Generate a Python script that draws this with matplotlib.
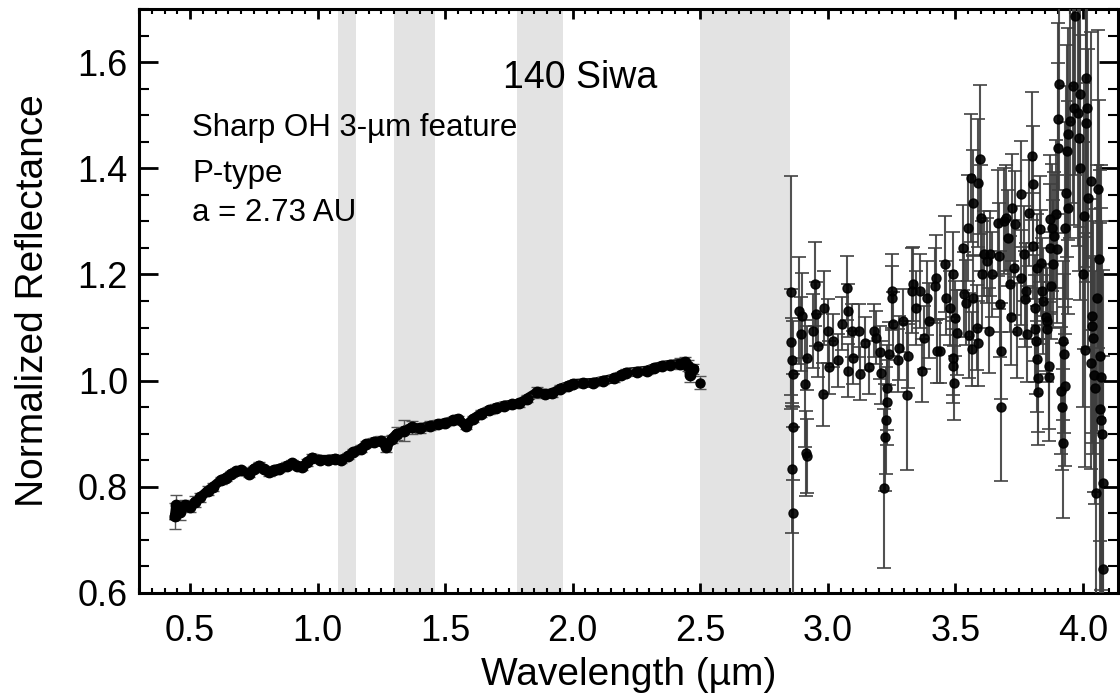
"""Reflectance spectrum of 140 Siwa (0.4-4.1 um) with telluric bands shaded."""

import matplotlib
matplotlib.use("Agg")
import matplotlib.pyplot as plt  # noqa: E402
from matplotlib.ticker import MultipleLocator  # noqa: E402

plt.rcParams["font.family"] = ["Liberation Sans", "DejaVu Sans"]

# telluric bands (um)
band_lo = [1.08, 1.30, 1.78, 2.50]
band_hi = [1.15, 1.46, 1.96, 2.85]

# visible / near-IR part
left_wave = [0.44, 0.445, 0.46, 0.48, 0.50, 0.52, 0.54, 0.57, 0.59, 0.62, 0.64, 0.66,
             0.68, 0.70, 0.73, 0.75, 0.77, 0.79, 0.81, 0.83, 0.85, 0.88, 0.90, 0.92,
             0.94, 0.96, 0.98, 1.01, 1.04, 1.07, 1.09, 1.12, 1.14, 1.17, 1.19, 1.22,
             1.25, 1.27, 1.29, 1.31, 1.34, 1.37, 1.40, 1.44, 1.47, 1.50, 1.53, 1.55,
             1.58, 1.61, 1.64, 1.67, 1.70, 1.73, 1.76, 1.79, 1.82, 1.86, 1.89, 1.92,
             1.95, 1.98, 2.00, 2.04, 2.08, 2.12, 2.16, 2.19, 2.21, 2.25, 2.29, 2.32,
             2.35, 2.38, 2.42, 2.44, 2.45, 2.46, 2.47]
left_refl = [0.745, 0.765, 0.752, 0.765, 0.762, 0.772, 0.780, 0.793, 0.800, 0.812, 0.817, 0.824,
             0.829, 0.831, 0.825, 0.834, 0.840, 0.833, 0.827, 0.832, 0.834, 0.840, 0.844, 0.840,
             0.837, 0.846, 0.855, 0.851, 0.851, 0.853, 0.850, 0.858, 0.865, 0.872, 0.880, 0.885,
             0.887, 0.874, 0.890, 0.900, 0.906, 0.912, 0.910, 0.915, 0.918, 0.920, 0.925, 0.928,
             0.915, 0.928, 0.938, 0.944, 0.949, 0.953, 0.955, 0.957, 0.966, 0.978, 0.975, 0.976,
             0.985, 0.990, 0.994, 0.995, 0.996, 1.000, 1.004, 1.010, 1.015, 1.017, 1.019, 1.024,
             1.028, 1.030, 1.032, 1.035, 1.028, 1.010, 1.022]
left_err = [0.025, 0.02, 0.015, 0.01, 0.01, 0.01, 0.008, 0.008, 0.008, 0.006, 0.006, 0.006,
            0.006, 0.006, 0.006, 0.006, 0.006, 0.006, 0.006, 0.006, 0.006, 0.006, 0.006, 0.006,
            0.006, 0.006, 0.006, 0.006, 0.006, 0.006, 0.006, 0.006, 0.006, 0.006, 0.006, 0.006,
            0.008, 0.008, 0.008, 0.012, 0.02, 0.012, 0.008, 0.008, 0.008, 0.006, 0.006, 0.006,
            0.006, 0.006, 0.006, 0.006, 0.006, 0.006, 0.006, 0.006, 0.006, 0.01, 0.006, 0.006,
            0.006, 0.006, 0.006, 0.006, 0.006, 0.006, 0.006, 0.006, 0.006, 0.006, 0.006, 0.006,
            0.006, 0.006, 0.01, 0.01, 0.01, 0.012, 0.01]

# isolated point at the band edge
edge_wave = [2.50]
edge_refl = [0.996]
edge_err = [0.012]

# 3-um region
right_wave = [2.857, 2.855, 2.860, 2.862, 2.865, 2.860, 2.862, 2.885, 2.900, 2.895, 2.910, 2.915,
              2.918, 2.920, 2.940, 2.950, 2.952, 2.960, 2.980, 2.985, 3.000, 3.005, 3.020, 3.040,
              3.055, 3.075, 3.078, 3.080, 3.095, 3.098, 3.120, 3.125, 3.145, 3.160, 3.180, 3.190,
              3.205, 3.210, 3.220, 3.225, 3.228, 3.230, 3.232, 3.240, 3.250, 3.252, 3.255, 3.275,
              3.280, 3.295, 3.310, 3.315, 3.330, 3.335, 3.345, 3.360, 3.370, 3.375, 3.390, 3.395,
              3.420, 3.425, 3.428, 3.440, 3.460, 3.462, 3.480, 3.490, 3.492, 3.495, 3.490, 3.500,
              3.505, 3.530, 3.535, 3.540, 3.550, 3.555, 3.560, 3.565, 3.568, 3.570, 3.585, 3.588,
              3.590, 3.595, 3.600, 3.605, 3.610, 3.625, 3.630, 3.635, 3.645, 3.665, 3.670, 3.675,
              3.678, 3.680, 3.690, 3.700, 3.705, 3.715, 3.718, 3.720, 3.730, 3.735, 3.740, 3.755,
              3.758, 3.770, 3.772, 3.775, 3.780, 3.790, 3.800, 3.802, 3.805, 3.810, 3.812, 3.815,
              3.818, 3.820, 3.822, 3.825, 3.830, 3.835, 3.840, 3.842, 3.855, 3.858, 3.860, 3.865,
              3.868, 3.870, 3.872, 3.875, 3.880, 3.882, 3.885, 3.895, 3.897, 3.900, 3.903, 3.905,
              3.915, 3.918, 3.920, 3.922, 3.925, 3.928, 3.930, 3.935, 3.938, 3.940, 3.943, 3.950,
              3.960, 3.963, 3.970, 3.980, 3.985, 3.988, 3.990, 4.000, 4.003, 4.007, 4.010, 4.013,
              4.016, 4.020, 4.030, 4.033, 4.035, 4.037, 4.040, 4.042, 4.045, 4.050, 4.055, 4.060,
              4.062, 4.065, 4.067, 4.070, 4.072, 4.075, 4.077, 4.080]
right_refl = [1.166, 1.072, 1.038, 1.013, 0.913, 0.833, 0.750, 1.132, 1.122, 1.088, 0.994, 0.863,
              0.858, 1.043, 1.094, 1.182, 1.126, 1.066, 0.974, 1.137, 1.094, 1.025, 1.075, 1.038,
              1.107, 1.175, 1.132, 1.019, 1.094, 1.043, 1.094, 1.013, 1.070, 1.025, 1.094, 1.081,
              1.053, 1.015, 0.797, 0.893, 0.925, 0.987, 0.959, 1.051, 1.169, 1.156, 1.107, 1.038,
              1.062, 1.113, 0.972, 1.047, 1.169, 1.182, 1.137, 1.169, 1.019, 1.081, 1.156, 1.113,
              1.179, 1.194, 1.056, 1.056, 1.220, 1.156, 1.137, 1.043, 1.028, 0.996, 1.200, 1.117,
              1.090, 1.250, 1.163, 1.147, 1.288, 1.085, 1.382, 1.060, 1.335, 1.156, 1.100, 1.070,
              1.372, 1.417, 1.307, 1.200, 1.239, 1.226, 1.094, 1.239, 1.200, 1.297, 1.235, 1.145,
              1.056, 0.951, 1.301, 1.307, 1.269, 1.182, 1.119, 1.326, 1.213, 1.295, 1.094, 1.351,
              1.194, 1.239, 1.154, 1.169, 1.088, 1.316, 1.423, 1.370, 1.254, 1.137, 1.098, 1.075,
              1.041, 1.213, 1.004, 0.978, 1.286, 1.222, 1.169, 1.150, 1.119, 1.098, 1.113, 1.028,
              1.006, 1.250, 1.305, 1.179, 1.288, 1.220, 1.273, 1.314, 1.248, 1.438, 1.493, 1.559,
              0.981, 0.951, 1.075, 0.882, 1.051, 0.989, 1.288, 1.354, 1.433, 1.465, 1.326, 1.489,
              1.555, 1.514, 1.687, 1.504, 1.457, 1.401, 1.540, 1.200, 1.310, 1.058, 1.486, 1.570,
              1.514, 1.344, 1.376, 1.034, 1.122, 1.103, 1.081, 1.011, 0.987, 0.788, 1.156, 1.361,
              1.229, 1.047, 0.947, 1.006, 0.925, 0.900, 0.808, 0.646]
right_err = [0.22, 0.10, 0.08, 0.10, 0.10, 0.12, 0.20, 0.10, 0.08, 0.07, 0.12, 0.08,
             0.07, 0.06, 0.07, 0.08, 0.06, 0.06, 0.06, 0.07, 0.06, 0.05, 0.05, 0.05,
             0.05, 0.06, 0.05, 0.05, 0.05, 0.05, 0.05, 0.05, 0.05, 0.05, 0.05, 0.05,
             0.05, 0.06, 0.15, 0.10, 0.10, 0.08, 0.08, 0.06, 0.07, 0.06, 0.06, 0.06,
             0.06, 0.06, 0.14, 0.06, 0.08, 0.07, 0.07, 0.07, 0.06, 0.06, 0.07, 0.07,
             0.07, 0.08, 0.06, 0.06, 0.09, 0.07, 0.07, 0.07, 0.07, 0.07, 0.08, 0.07,
             0.08, 0.08, 0.08, 0.08, 0.10, 0.08, 0.12, 0.07, 0.10, 0.08, 0.08, 0.08,
             0.12, 0.14, 0.10, 0.10, 0.08, 0.08, 0.08, 0.08, 0.08, 0.10, 0.10, 0.10,
             0.09, 0.14, 0.10, 0.10, 0.09, 0.09, 0.09, 0.10, 0.09, 0.10, 0.09, 0.10,
             0.09, 0.09, 0.09, 0.09, 0.09, 0.10, 0.12, 0.11, 0.10, 0.10, 0.10, 0.10,
             0.10, 0.10, 0.10, 0.10, 0.10, 0.10, 0.10, 0.10, 0.10, 0.10, 0.10, 0.12,
             0.12, 0.12, 0.12, 0.10, 0.12, 0.12, 0.12, 0.14, 0.14, 0.16, 0.18, 0.20,
             0.12, 0.12, 0.15, 0.14, 0.15, 0.15, 0.20, 0.20, 0.20, 0.20, 0.20, 0.22,
             0.22, 0.22, 0.30, 0.25, 0.25, 0.25, 0.25, 0.25, 0.25, 0.22, 0.30, 0.30,
             0.30, 0.28, 0.28, 0.20, 0.22, 0.22, 0.22, 0.22, 0.22, 0.25, 0.25, 0.30,
             0.30, 0.35, 0.35, 0.40, 0.40, 0.40, 0.40, 0.40]


def main() -> int:
    fig = plt.figure(figsize=(11.2, 7.0), dpi=100)
    ax = fig.add_axes([0.1241, 0.1529, 0.8741, 0.8343])

    for lo, hi in zip(band_lo, band_hi):
        ax.axvspan(lo, hi, color="#e3e3e3", lw=0, zorder=0)

    # left spectrum: dense points, drawn as a thick dotted band
    ax.plot(left_wave, left_refl, color="k", lw=7, zorder=3)
    ax.errorbar(left_wave, left_refl, yerr=left_err, fmt="o", ms=7.5, color="k",
                ecolor="#555555", elinewidth=1, capsize=4, zorder=3)
    ax.errorbar(edge_wave, edge_refl, yerr=edge_err, fmt="o", ms=6.5, color="k",
                ecolor="#555555", elinewidth=1, capsize=4, zorder=3)

    # 3-um region with large error bars
    ax.errorbar(right_wave, right_refl, yerr=right_err, fmt="o", ms=6.5, color="k",
                ecolor="#3f3f3f", elinewidth=1.5, capsize=5, capthick=1.3,
                alpha=0.9, zorder=3)

    ax.set_xlim(0.3, 4.137)
    ax.set_ylim(0.6, 1.7)
    ax.xaxis.set_major_locator(MultipleLocator(0.5))
    ax.xaxis.set_minor_locator(MultipleLocator(0.05))
    ax.yaxis.set_major_locator(MultipleLocator(0.2))
    ax.yaxis.set_minor_locator(MultipleLocator(0.05))
    ax.xaxis.set_major_formatter(lambda v, p: f"{v:.1f}")
    ax.yaxis.set_major_formatter(lambda v, p: f"{v:.1f}")

    ax.tick_params(axis="both", which="both", direction="in", top=True, right=True,
                   labelsize=26, colors="k")
    ax.tick_params(axis="x", which="major", length=7, width=2, pad=15)
    ax.tick_params(axis="x", which="minor", length=3.6, width=1.5)
    ax.tick_params(axis="y", which="major", length=14, width=2, pad=8)
    ax.tick_params(axis="y", which="minor", length=7, width=1.5)
    for sp in ax.spines.values():
        sp.set_linewidth(2.2)

    ax.set_xlabel("Wavelength (\u00b5m)", fontsize=28, labelpad=6)
    ax.set_ylabel("Normalized Reflectance", fontsize=28, labelpad=19)

    ax.text(1.727, 1.57, "140 Siwa", fontsize=27, va="center", ha="left")
    ax.text(0.508, 1.476, "Sharp OH 3-\u00b5m feature", fontsize=22.5, va="center", ha="left")
    ax.text(0.508, 1.389, "P-type", fontsize=22.5, va="center", ha="left")
    ax.text(0.508, 1.316, "a = 2.73 AU", fontsize=22.5, va="center", ha="left")

    fig.savefig("out.png", dpi=100)
    plt.close(fig)
    return 0


if __name__ == "__main__":
    raise SystemExit(main())
